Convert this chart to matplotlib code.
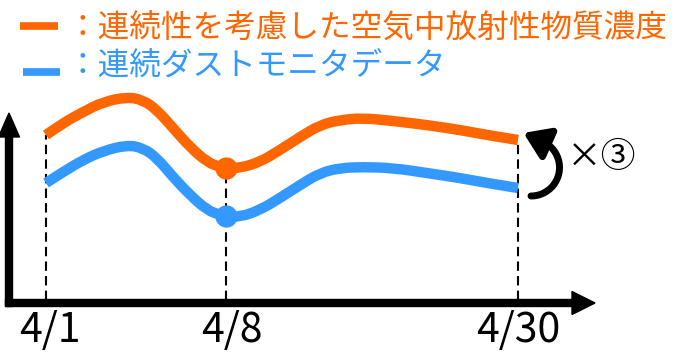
import numpy as np
import matplotlib.pyplot as plt
from matplotlib.patches import FancyArrowPatch, ArrowStyle, PathPatch
from matplotlib.path import Path

jp = ['Noto Sans CJK JP', 'DejaVu Sans']
plt.rcParams['font.family'] = jp

orange = '#FF6600'
blue = '#3399FF'

# schematic curves (x position, level above the time axis)
x_air = [37, 54, 74, 94, 118, 134, 148, 164, 181, 198, 211, 217, 231, 251,
         271, 291, 311, 331, 354, 384, 418, 451, 478, 509]
air_conc = [168, 180, 191, 201, 206, 203, 193, 175, 156, 141, 136, 135, 135, 141,
            153, 166, 178, 183, 185, 182, 178, 173, 168, 163]

x_dust = [37, 54, 74, 94, 118, 134, 148, 164, 181, 198, 211, 217, 231, 251,
          271, 291, 311, 331, 354, 384, 418, 451, 478, 509]
dust_conc = [120, 131, 143, 152, 158, 155, 145, 126, 108, 93, 88, 87, 86, 93,
             105, 118, 130, 135, 136, 135, 130, 125, 120, 115]

tick_x = [37, 217, 509]
tick_labels = ['4/1', '4/8', '4/30']
tick_idx = [0, 11, 23]

legend_labels = ['：連続性を考慮した空気中放射性物質濃度', '：連続ダストモニタデータ']


def smooth_path(xs, ys):
    # quadratic bezier through midpoints, control points at the read values
    pts = list(zip(xs, ys))
    verts = [pts[0]]
    codes = [Path.MOVETO]
    for i in range(1, len(pts) - 1):
        if i == len(pts) - 2:
            end = pts[-1]
        else:
            end = ((pts[i][0] + pts[i + 1][0]) / 2, (pts[i][1] + pts[i + 1][1]) / 2)
        verts += [pts[i], end]
        codes += [Path.CURVE3, Path.CURVE3]
    return Path(verts, codes)


fig = plt.figure(figsize=(6.78, 3.54), dpi=100)
ax = fig.add_axes([0, 0, 1, 1])
ax.set_xlim(-9, 669)
ax.set_ylim(-51, 303)
ax.axis('off')

# dashed guides
for tx, i in zip(tick_x, tick_idx):
    ax.plot([tx, tx], [3, air_conc[i]], color='black', lw=1.5,
            dashes=(4.5, 2.5), zorder=1)

for xs, ys, c in [(x_air, air_conc, orange), (x_dust, dust_conc, blue)]:
    ax.add_patch(PathPatch(smooth_path(xs, ys), fill=False, edgecolor=c,
                           lw=7.5, capstyle='butt', joinstyle='round', zorder=3))
ax.plot(x_air[11], air_conc[11], 'o', color=orange, ms=15, zorder=4)
ax.plot(x_dust[11], dust_conc[11], 'o', color=blue, ms=15, zorder=4)

# axes arrows
ax.arrow(0, -3.5, 0, 193.5, width=7, head_width=21, head_length=24,
         length_includes_head=True, color='black', zorder=2)
ax.arrow(-3.5, 0, 589.5, 0, width=7, head_width=23, head_length=23,
         length_includes_head=True, color='black', zorder=2)

label_offset = [4, 6, 0]
for tx, lab, off in zip(tick_x, tick_labels, label_offset):
    ax.text(tx + off, -27, lab, fontsize=29.5, ha='center', va='center')

# repeat arrow (x3)
cx, cy, r = 522, 135.5, 28.5
th = np.radians(np.linspace(-90, 66, 60))
px = list(cx + r * np.cos(th))
py = list(cy + r * np.sin(th))
t0 = th[-1]
px.append(px[-1] - 21 * np.sin(t0))
py.append(py[-1] + 21 * np.cos(t0))
verts = list(zip(px, py))
codes = [Path.MOVETO] + [Path.LINETO] * (len(verts) - 1)
arr = FancyArrowPatch(path=Path(verts, codes),
                      arrowstyle=ArrowStyle('-|>', head_length=15, head_width=10),
                      mutation_scale=1, lw=5, color='black', zorder=3)
ax.add_patch(arr)
ax.text(558, 146, '×③', fontsize=25, ha='left', va='center')

# legend
ax.plot([11, 49], [277.5, 277.5], color=orange, lw=5.5, solid_capstyle='butt')
ax.plot([14, 51], [231.5, 231.5], color=blue, lw=5.5, solid_capstyle='butt')
ax.text(58, 274, legend_labels[0], color=orange, fontsize=22.8, ha='left', va='center')
ax.text(58, 236, legend_labels[1], color=blue, fontsize=22.8, ha='left', va='center')

fig.savefig('out.png', dpi=100)
